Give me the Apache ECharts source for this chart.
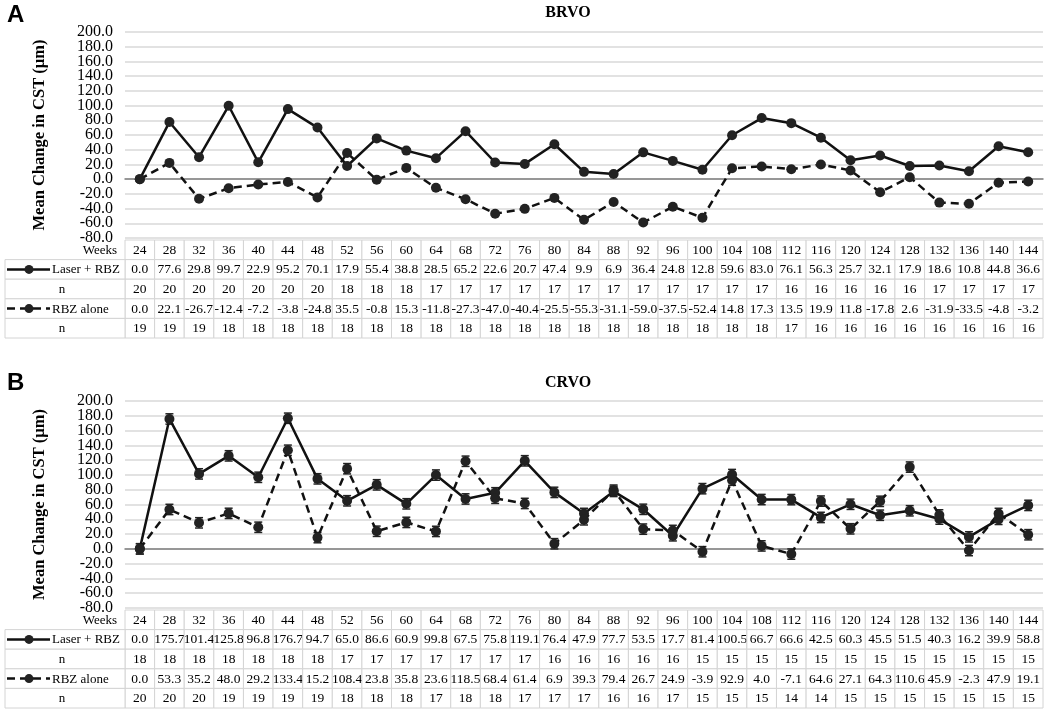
<!DOCTYPE html>
<html><head><meta charset="utf-8">
<script src="https://cdn.jsdelivr.net/npm/echarts/dist/echarts.min.js"></script>
<style>html,body{margin:0;padding:0;background:#fff}#c{width:1050px;height:714px}</style>
</head><body><div id="c"></div>
<script>
// ---------------- data ----------------
const weeks = [24,28,32,36,40,44,48,52,56,60,64,68,72,76,80,84,88,92,96,100,104,108,112,116,120,124,128,132,136,140,144];

const brvoLaser  = [0.0,77.6,29.8,99.7,22.9,95.2,70.1,17.9,55.4,38.8,28.5,65.2,22.6,20.7,47.4,9.9,6.9,36.4,24.8,12.8,59.6,83.0,76.1,56.3,25.7,32.1,17.9,18.6,10.8,44.8,36.6];
const brvoLaserN = [20,20,20,20,20,20,20,18,18,18,17,17,17,17,17,17,17,17,17,17,17,17,16,16,16,16,16,17,17,17,17];
const brvoRbz    = [0.0,22.1,-26.7,-12.4,-7.2,-3.8,-24.8,35.5,-0.8,15.3,-11.8,-27.3,-47.0,-40.4,-25.5,-55.3,-31.1,-59.0,-37.5,-52.4,14.8,17.3,13.5,19.9,11.8,-17.8,2.6,-31.9,-33.5,-4.8,-3.2];
const brvoRbzN   = [19,19,19,18,18,18,18,18,18,18,18,18,18,18,18,18,18,18,18,18,18,18,17,16,16,16,16,16,16,16,16];

const crvoLaser  = [0.0,175.7,101.4,125.8,96.8,176.7,94.7,65.0,86.6,60.9,99.8,67.5,75.8,119.1,76.4,47.9,77.7,53.5,17.7,81.4,100.5,66.7,66.6,42.5,60.3,45.5,51.5,40.3,16.2,39.9,58.8];
const crvoLaserN = [18,18,18,18,18,18,18,17,17,17,17,17,17,17,16,16,16,16,16,15,15,15,15,15,15,15,15,15,15,15,15];
const crvoRbz    = [0.0,53.3,35.2,48.0,29.2,133.4,15.2,108.4,23.8,35.8,23.6,118.5,68.4,61.4,6.9,39.3,79.4,26.7,24.9,-3.9,92.9,4.0,-7.1,64.6,27.1,64.3,110.6,45.9,-2.3,47.9,19.1];
const crvoRbzN   = [20,20,20,19,19,19,19,18,18,18,17,18,18,17,17,17,16,16,17,15,15,15,14,14,15,15,15,15,15,15,15];
// estimated error-bar half widths (CRVO panel)
const crvoLaserErr = [7,7,7,7,7,7,7,7,7,7,7,7,7,7,7,7,7,7,7,7,7,7,7,7,7,7,7,7,7,7,7];
const crvoRbzErr   = [7,7,7,7,7,7,7,7,7,7,7,7,7,7,7,7,7,7,7,7,7,7,7,7,7,7,7,7,7,7,7];

const yMin = -80, yMax = 200, yStep = 20;
const titles = ['BRVO', 'CRVO'];
const letters = ['A', 'B'];
const rowLabels = ['Weeks', 'Laser + RBZ', 'n', 'RBZ alone', 'n'];

// ---------------- layout ----------------
const SERIF = '"Liberation Serif","Times New Roman",serif';
const SANS = '"Liberation Sans",Arial,sans-serif';
const grids = [
  {left:125, right:7, top:32, height:206},
  {left:125, right:7, top:401, height:207}
];
const ROW_H = 19.6;
const panels = [
  {laser:brvoLaser, laserN:brvoLaserN, rbz:brvoRbz, rbzN:brvoRbzN, laserErr:null, rbzErr:null},
  {laser:crvoLaser, laserN:crvoLaserN, rbz:crvoRbz, rbzN:crvoRbzN, laserErr:crvoLaserErr, rbzErr:crvoRbzErr}
];

const chart = echarts.init(document.getElementById('c'), null, {renderer:'canvas'});

function tableRenderer(p) {
  return function (params, api) {
    const i = params.dataIndex;
    const cs = params.coordSys;
    const cx = api.coord([i, 0])[0];
    const w = api.size([1, 0])[0];
    const top0 = cs.y + cs.height + 2;
    const cells = [String(weeks[i]), p.laser[i].toFixed(1), String(p.laserN[i]), p.rbz[i].toFixed(1), String(p.rbzN[i])];
    const children = [];
    cells.forEach((t, r) => {
      const y = top0 + r * ROW_H;
      children.push({type:'rect', shape:{x:cx - w/2, y:y, width:w, height:ROW_H},
        style:{fill:'#fff', stroke:'#d4d4d4', lineWidth:1}});
      children.push({type:'text', style:{x:cx, y:y + ROW_H/2 + 0.5, text:t, align:'center', verticalAlign:'middle',
        fontFamily:SERIF, fontSize:13.5, fill:'#000'}});
    });
    if (i === 0) {
      const x0 = 5, x1 = cs.x;
      children.push({type:'text', style:{x:x1 - 8, y:top0 + ROW_H/2 + 0.5, text:rowLabels[0], align:'right', verticalAlign:'middle',
        fontFamily:SERIF, fontSize:13, fill:'#000'}});
      for (let r = 1; r < 5; r++) {
        const y = top0 + r * ROW_H;
        const ym = y + ROW_H/2;
        children.push({type:'rect', shape:{x:x0, y:y, width:x1 - x0, height:ROW_H},
          style:{fill:'#fff', stroke:'#d4d4d4', lineWidth:1}});
        if (r === 1 || r === 3) {
          children.push({type:'line', shape:{x1:7, y1:ym, x2:50, y2:ym},
            style:{stroke:'#111', lineWidth:2.5, lineDash: r === 3 ? [8,5] : null}});
          children.push({type:'circle', shape:{cx:29, cy:ym, r:4.5}, style:{fill:'#222'}});
          children.push({type:'text', style:{x:52, y:ym + 0.5, text:rowLabels[r], align:'left', verticalAlign:'middle',
            fontFamily:SERIF, fontSize:13, fill:'#000'}});
        } else {
          children.push({type:'text', style:{x:62, y:ym + 0.5, text:rowLabels[r], align:'center', verticalAlign:'middle',
            fontFamily:SERIF, fontSize:13, fill:'#000'}});
        }
      }
    }
    return {type:'group', children};
  };
}

function errRenderer(params, api) {
  const x = api.value(0), v = api.value(1), e = api.value(2);
  const hi = api.coord([x, v + e]);
  const lo = api.coord([x, v - e]);
  const cap = 4;
  const st = {stroke:'#222', lineWidth:1.5};
  return {type:'group', children:[
    {type:'line', shape:{x1:hi[0], y1:hi[1], x2:lo[0], y2:lo[1]}, style:st},
    {type:'line', shape:{x1:hi[0]-cap, y1:hi[1], x2:hi[0]+cap, y2:hi[1]}, style:st},
    {type:'line', shape:{x1:lo[0]-cap, y1:lo[1], x2:lo[0]+cap, y2:lo[1]}, style:st}
  ]};
}

const labelStyle = {fontFamily:SERIF, fontSize:16, color:'#000', margin:12};
const xAxes = [], yAxes = [], series = [];
grids.forEach((g, k) => {
  g.containLabel = false;
  g.outerBoundsMode = 'none';
  xAxes.push({type:'category', gridIndex:k, data:weeks.map(String), boundaryGap:true,
    axisLabel:{show:false}, axisTick:{show:false}, splitLine:{show:false},
    axisLine:{show:true, onZero:true, lineStyle:{color:'#7f7f7f', width:1.5}}});
  // main axis: grid lines every 20, labels every other tick (even steps)
  yAxes.push({type:'value', gridIndex:k, position:'left', min:yMin, max:yMax, interval:yStep,
    axisLine:{show:false}, axisTick:{show:false},
    axisLabel:Object.assign({formatter:v => (Math.round((v - yMin) / yStep) % 2 === 0 ? v.toFixed(1) : ''),
      showMinLabel:true, showMaxLabel:true}, labelStyle),
    splitLine:{show:true, lineStyle:{color:'#d9d9d9', width:1.5}},
    name:'Mean Change in CST (µm)', nameLocation:'middle', nameGap:77,
    nameTextStyle:{fontFamily:SERIF, fontSize:16.5, fontWeight:'bold', color:'#000'}});
  // companion axis: the odd-step labels
  yAxes.push({type:'value', gridIndex:k, position:'left', offset:0, min:yMin, max:yMax, interval:yStep,
    axisLine:{show:false}, axisTick:{show:false}, splitLine:{show:false},
    axisLabel:Object.assign({formatter:v => (Math.round((v - yMin) / yStep) % 2 === 1 ? v.toFixed(1) : ''),
      showMinLabel:false, showMaxLabel:false}, labelStyle)});
  const yi = k * 2;
  const p = panels[k];
  if (p.laserErr) {
    series.push({type:'custom', xAxisIndex:k, yAxisIndex:yi, z:1, silent:true,
      data:p.laser.map((v, i) => [i, v, p.laserErr[i]]), renderItem:errRenderer});
    series.push({type:'custom', xAxisIndex:k, yAxisIndex:yi, z:1, silent:true,
      data:p.rbz.map((v, i) => [i, v, p.rbzErr[i]]), renderItem:errRenderer});
  }
  series.push({type:'line', name:'Laser + RBZ', xAxisIndex:k, yAxisIndex:yi, z:3, data:p.laser,
    symbol:'circle', symbolSize:10, itemStyle:{color:'#222', borderWidth:0},
    lineStyle:{color:'#111', width:2.5}, animation:false});
  series.push({type:'line', name:'RBZ alone', xAxisIndex:k, yAxisIndex:yi, z:3, data:p.rbz,
    symbol:'circle', symbolSize:10, itemStyle:{color:'#222', borderWidth:0},
    lineStyle:{color:'#111', width:2.5, type:[8,5]}, animation:false});
  series.push({type:'custom', xAxisIndex:k, yAxisIndex:yi, z:5, silent:true, clip:false,
    data:weeks.map((w, i) => [i, 0]), renderItem:tableRenderer(p)});
});

chart.setOption({
  backgroundColor:'#fff',
  animation:false,
  title:[
    {text:titles[0], left:563, top:0, textAlign:'center', textStyle:{fontFamily:SERIF, fontSize:16, fontWeight:'bold', color:'#000'}},
    {text:titles[1], left:563, top:370, textAlign:'center', textStyle:{fontFamily:SERIF, fontSize:16, fontWeight:'bold', color:'#000'}}
  ],
  graphic:[
    {type:'text', left:7, top:3, style:{text:letters[0], font:'bold 24px ' + SANS, fill:'#000'}},
    {type:'text', left:7, top:371, style:{text:letters[1], font:'bold 24px ' + SANS, fill:'#000'}}
  ],
  grid:grids,
  xAxis:xAxes,
  yAxis:yAxes,
  series:series
});
</script></body></html>
